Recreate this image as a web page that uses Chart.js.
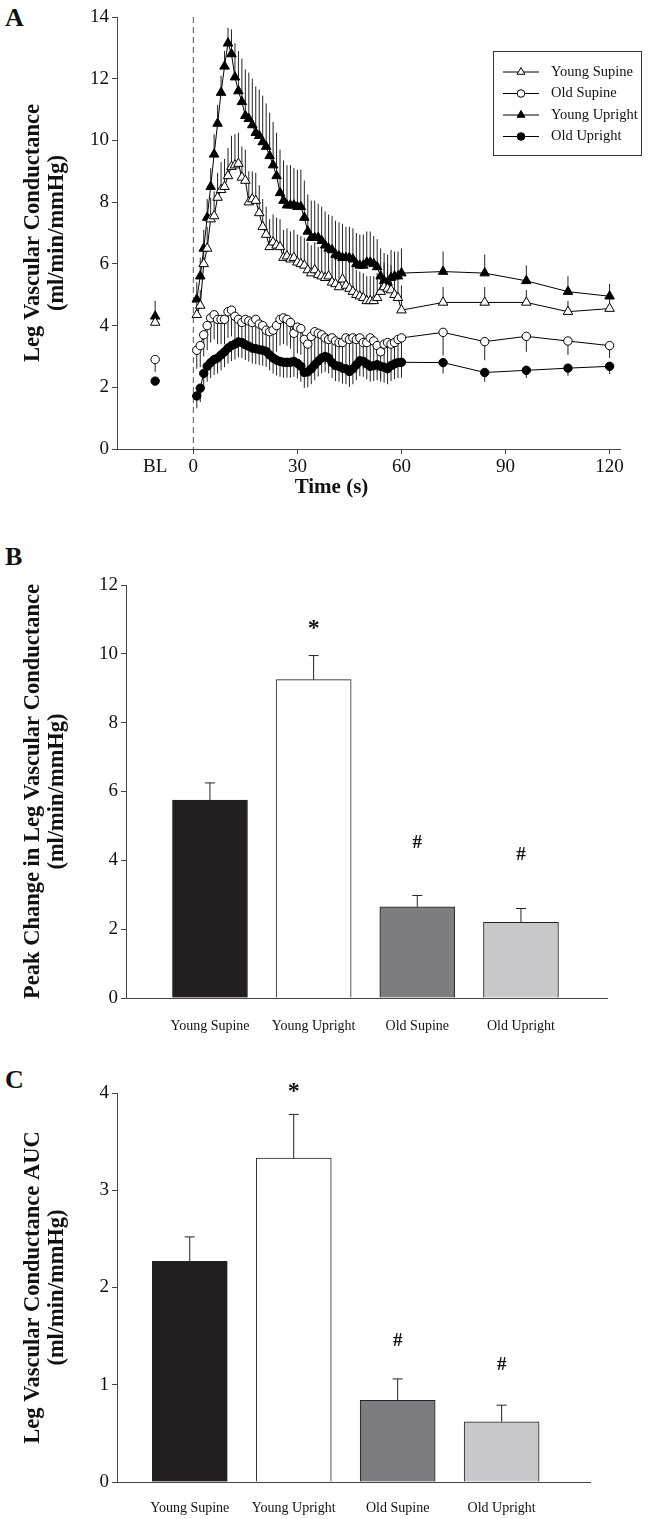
<!DOCTYPE html>
<html>
<head>
<meta charset="utf-8">
<script src="https://cdn.jsdelivr.net/npm/chart.js@4.4.1/dist/chart.umd.min.js"></script>
<style>
  html, body { margin: 0; padding: 0; background: #fff; }
  body { width: 663px; height: 1519px; position: relative; overflow: hidden; }
  canvas { position: absolute; left: 0; }
  .panel-letter { position: absolute; left: 5px; font: bold 26px 'Liberation Serif', serif; color: #111; }
  .x-title { position: absolute; left: 0; width: 663px; text-align: center; font: bold 21px 'Liberation Serif', serif; color: #111; }
</style>
</head>
<body>
<div class="panel-letter" style="top:3px">A</div>
<div class="panel-letter" style="top:542px">B</div>
<div class="panel-letter" style="top:1065px">C</div>
<canvas id="timeChart" width="663" height="505" style="top:0"></canvas>
<canvas id="peakChart" width="663" height="530" style="top:505px"></canvas>
<canvas id="aucChart" width="663" height="484" style="top:1035px"></canvas>
<div class="x-title" style="top:474px">Time (s)</div>
<script>
// panel A data (seconds after onset; BL = baseline)
const timeSec = [1,2,3,4,5,6,7,8,9,10,11,12,13,14,15,16,17,18,19,20,
  21,22,23,24,25,26,27,28,29,30,31,32,33,34,35,36,37,38,39,40,
  41,42,43,44,45,46,47,48,49,50,51,52,53,54,55,56,57,58,59,60,
  72,84,96,108,120];
const blTime = -11;
const xTickValues = [-11, 0, 30, 60, 90, 120];

const youngSupine = [4.35,4.65,6.0,6.5,7.45,7.55,8.15,8.4,8.5,8.85,9.15,9.2,9.25,8.8,8.7,8.0,8.1,8.05,7.65,7.2,
  6.95,6.55,6.7,6.6,6.55,6.2,6.25,6.15,6.2,6.05,6.0,5.95,5.8,5.7,5.8,5.65,5.6,5.55,5.6,5.4,
  5.35,5.25,5.5,5.3,5.2,5.1,5.0,4.95,4.9,4.8,4.8,4.8,4.9,5.1,5.25,5.2,5.15,5.0,4.9,4.5,
  4.75,4.75,4.75,4.45,4.55];
const youngSupineErr = [0.4,0.5,0.6,0.7,0.7,0.8,0.8,0.9,0.9,0.9,1.0,1.0,1.0,1.0,1.0,1.0,0.9,0.9,0.9,0.9,
  0.9,0.9,0.9,0.9,0.9,0.9,0.9,0.9,0.9,0.9,0.9,0.9,0.9,0.9,0.9,0.9,0.9,0.9,0.9,0.9,
  0.9,0.9,0.9,0.9,0.9,0.8,0.8,0.8,0.8,0.8,0.8,0.8,0.8,0.8,0.8,0.8,0.8,0.8,0.8,0.8,
  0.5,0.5,0.4,0.35,0.3];

const oldSupine = [3.2,3.35,3.7,4.0,4.25,4.35,4.2,4.2,4.2,4.45,4.5,4.3,4.2,4.1,4.2,4.15,4.1,4.2,4.05,4.0,
  3.85,3.8,3.85,4.0,4.2,4.25,4.2,4.1,3.75,3.95,3.9,3.55,3.4,3.65,3.8,3.75,3.7,3.6,3.55,3.6,
  3.5,3.45,3.45,3.6,3.55,3.6,3.55,3.6,3.45,3.45,3.6,3.5,3.35,3.15,3.4,3.45,3.4,3.45,3.55,3.6,
  3.78,3.48,3.65,3.5,3.35];
const oldSupineErr = [0.6,0.7,0.7,0.8,0.8,0.8,0.8,0.8,0.8,0.85,0.85,0.85,0.85,0.85,0.85,0.85,0.85,0.85,0.85,0.85,
  0.85,0.85,0.85,0.85,0.85,0.85,0.85,0.85,0.85,0.85,0.85,0.85,0.85,0.85,0.85,0.85,0.85,0.85,0.85,0.85,
  0.85,0.85,0.85,0.85,0.85,0.85,0.85,0.85,0.85,0.85,0.85,0.85,0.85,0.85,0.85,0.85,0.85,0.85,0.85,0.85,
  0.75,0.6,0.5,0.45,0.4];

const youngUpright = [4.85,5.6,6.5,7.5,8.5,9.55,10.55,11.55,12.4,13.15,12.8,12.05,11.6,11.25,10.8,10.7,10.5,10.25,10.15,9.95,
  9.8,9.5,9.2,8.85,8.3,8.05,7.9,7.9,7.9,7.85,7.85,7.5,7.05,6.85,6.85,6.85,6.75,6.6,6.5,6.45,
  6.3,6.25,6.2,6.2,6.2,6.15,6.0,5.95,5.95,6.05,6.05,6.0,5.9,5.6,5.45,5.4,5.55,5.6,5.6,5.7,
  5.75,5.7,5.45,5.1,4.95];
const youngUprightErr = [0.55,0.6,0.6,0.6,0.6,0.65,0.6,0.55,0.5,0.5,0.8,1.1,1.3,1.4,1.5,1.5,1.5,1.5,1.5,1.5,
  1.4,1.4,1.4,1.4,1.4,1.3,1.3,1.3,1.2,1.2,1.2,1.2,1.2,1.2,1.2,1.1,1.1,1.1,1.1,1.1,
  1.1,1.1,1.1,1.0,1.0,1.0,1.0,1.0,1.0,1.0,1.0,0.9,0.9,0.9,0.9,0.9,0.9,0.8,0.8,0.8,
  0.65,0.6,0.5,0.5,0.4];

const oldUpright = [1.72,1.97,2.45,2.68,2.8,2.9,2.95,3.05,3.15,3.27,3.35,3.4,3.47,3.45,3.38,3.33,3.27,3.25,3.22,3.2,
  3.16,3.05,2.95,2.88,2.84,2.81,2.81,2.81,2.84,2.78,2.68,2.48,2.5,2.6,2.73,2.85,2.95,3.0,2.95,2.8,
  2.7,2.68,2.62,2.6,2.51,2.6,2.73,2.86,2.84,2.76,2.68,2.7,2.73,2.68,2.65,2.6,2.7,2.76,2.8,2.81,
  2.8,2.48,2.55,2.62,2.68];
const oldUprightErr = [0.4,0.45,0.5,0.5,0.5,0.5,0.5,0.5,0.5,0.5,0.5,0.5,0.5,0.5,0.5,0.5,0.5,0.5,0.5,0.5,
  0.5,0.5,0.5,0.5,0.5,0.5,0.5,0.5,0.5,0.5,0.5,0.5,0.5,0.5,0.5,0.5,0.5,0.5,0.5,0.5,
  0.5,0.5,0.5,0.5,0.5,0.5,0.5,0.5,0.5,0.5,0.5,0.5,0.5,0.5,0.5,0.5,0.5,0.5,0.5,0.5,
  0.35,0.3,0.25,0.25,0.25];

// baseline: young supine, old supine, young upright, old upright
const baseline = [4.1, 2.9, 4.3, 2.2];
const baselineErr = [0.3, 0.4, 0.5, 0.1];

// panels B and C
const groups = ['Young Supine', 'Young Upright', 'Old Supine', 'Old Upright'];
const barColors = ['#231f20', '#ffffff', '#7d7d80', '#c8c8ca'];
const peakChange = [5.75, 9.25, 2.65, 2.2];
const peakErr = [0.5, 0.7, 0.33, 0.4];
const peakMarks = ['', '*', '#', '#'];
const peakMarkAt = [null, 10.85, 4.5, 4.15];
const aucValues = [2.27, 3.33, 0.84, 0.62];
const aucErr = [0.25, 0.45, 0.22, 0.17];
const aucMarks = ['', '*', '#', '#'];
const aucMarkAt = [null, 4.05, 1.45, 1.2];

const serif = "'Liberation Serif', 'Times New Roman', serif";
const axisGray = '#444';

// error bars, drawn from each point by the chart's own y scale
const errorBars = {
  id: 'errorBars',
  beforeDatasetsDraw(chart) {
    const { ctx } = chart;
    const yScale = chart.scales.y;
    ctx.save();
    chart.data.datasets.forEach((ds, i) => {
      if (!ds.errors) return;
      const meta = chart.getDatasetMeta(i);
      ctx.strokeStyle = '#222';
      ctx.lineWidth = 1;
      meta.data.forEach((el, j) => {
        const v = ds.data[j].y;
        const e = ds.errors[j];
        if (v == null || !e) return;
        const yEnd = yScale.getPixelForValue(v + ds.errorDir * e);
        ctx.beginPath();
        ctx.moveTo(el.x, el.y);
        ctx.lineTo(el.x, yEnd);
        ctx.stroke();
        if (ds.errorCap) {
          ctx.beginPath();
          ctx.moveTo(el.x - ds.errorCap, yEnd);
          ctx.lineTo(el.x + ds.errorCap, yEnd);
          ctx.stroke();
        }
      });
    });
    ctx.restore();
  }
};

// dashed onset line at time zero
const onsetLine = {
  id: 'onsetLine',
  beforeDatasetsDraw(chart) {
    const { ctx, chartArea } = chart;
    const x = chart.scales.x.getPixelForValue(0);
    ctx.save();
    ctx.strokeStyle = '#555';
    ctx.lineWidth = 1;
    ctx.setLineDash([6, 4]);
    ctx.beginPath();
    ctx.moveTo(x, chartArea.top);
    ctx.lineTo(x, chartArea.bottom);
    ctx.stroke();
    ctx.restore();
  }
};

// boxed legend in the top right corner of panel A
const boxLegend = {
  id: 'boxLegend',
  afterDraw(chart) {
    const { ctx } = chart;
    const items = chart.data.datasets.filter(ds => ds.inLegend);
    const left = 493, top = 51, w = 148, h = 104, rowH = 21.5;
    ctx.save();
    ctx.fillStyle = '#fff';
    ctx.fillRect(left, top, w, h);
    ctx.strokeStyle = '#333';
    ctx.lineWidth = 1;
    ctx.strokeRect(left + 0.5, top + 0.5, w, h);
    ctx.font = '14.5px ' + serif;
    ctx.textBaseline = 'middle';
    items.forEach((ds, i) => {
      const y = top + 21 + i * rowH;
      const cx = left + 28;
      ctx.strokeStyle = '#000';
      ctx.beginPath();
      ctx.moveTo(left + 10, y);
      ctx.lineTo(left + 46, y);
      ctx.stroke();
      ctx.fillStyle = ds.pointBackgroundColor;
      ctx.beginPath();
      if (ds.pointStyle === 'triangle') {
        const r = 4.5;
        ctx.moveTo(cx, y - r);
        ctx.lineTo(cx + r * 0.866, y + r * 0.5);
        ctx.lineTo(cx - r * 0.866, y + r * 0.5);
        ctx.closePath();
      } else {
        ctx.arc(cx, y, 3.8, 0, Math.PI * 2);
      }
      ctx.fill();
      ctx.stroke();
      ctx.fillStyle = '#111';
      ctx.fillText(ds.label, left + 58, y);
    });
    ctx.restore();
  }
};

// significance marks above the bars
const barMarks = {
  id: 'barMarks',
  afterDatasetsDraw(chart, args, opts) {
    const { ctx } = chart;
    ctx.save();
    ctx.fillStyle = '#111';
    ctx.textAlign = 'center';
    ctx.textBaseline = 'middle';
    opts.marks.forEach((m, i) => {
      if (!m) return;
      ctx.font = (m === '*' ? 'bold 24px ' : 'bold 19px ') + serif;
      const x = chart.scales.x.getPixelForValue(i + 1);
      const y = chart.scales.y.getPixelForValue(opts.at[i]);
      ctx.fillText(m, x, y + (m === '*' ? 4 : 0));
    });
    ctx.restore();
  }
};

function series(label, values, errors, dir, style, filled, inLegend) {
  return {
    label,
    data: values.map((v, i) => ({ x: timeSec[i], y: v })),
    errors, errorDir: dir, inLegend,
    borderColor: '#000',
    borderWidth: 1,
    pointStyle: style,
    pointRadius: style === 'triangle' ? 5.5 : 4.2,
    pointBorderWidth: 1,
    pointBorderColor: '#000',
    pointBackgroundColor: filled ? '#000' : '#fff',
    showLine: true,
    tension: 0
  };
}

function baselinePoint(i, style, filled, dir) {
  return {
    label: 'BL',
    data: [{ x: blTime, y: baseline[i] }],
    errors: [baselineErr[i]], errorDir: dir,
    pointStyle: style,
    pointRadius: style === 'triangle' ? 5.5 : 4.2,
    pointBorderWidth: 1,
    pointBorderColor: '#000',
    pointBackgroundColor: filled ? '#000' : '#fff',
    showLine: false
  };
}

const tickFont = { family: serif, size: 19 };
const titleFont = { family: serif, size: 22.5, weight: 'bold', lineHeight: 1.06 };

new Chart(document.getElementById('timeChart'), {
  type: 'line',
  data: {
    datasets: [
      series('Young Supine', youngSupine, youngSupineErr, 1, 'triangle', false, true),
      series('Old Supine', oldSupine, oldSupineErr, -1, 'circle', false, true),
      series('Young Upright', youngUpright, youngUprightErr, 1, 'triangle', true, true),
      series('Old Upright', oldUpright, oldUprightErr, -1, 'circle', true, true),
      baselinePoint(0, 'triangle', false, 1),
      baselinePoint(1, 'circle', false, -1),
      baselinePoint(2, 'triangle', true, 1),
      baselinePoint(3, 'circle', true, -1)
    ]
  },
  options: {
    responsive: false,
    animation: false,
    devicePixelRatio: 1,
    layout: { padding: { top: 17, right: 43, bottom: 0, left: 0 } },
    plugins: { legend: { display: false }, tooltip: { enabled: false } },
    scales: {
      x: {
        type: 'linear',
        min: -22,
        max: 123,
        afterBuildTicks: (scale) => { scale.ticks = xTickValues.map(v => ({ value: v })); },
        afterFit: (scale) => { scale.height = 56; },
        ticks: {
          font: tickFont, color: '#111', padding: 2, maxRotation: 0, autoSkip: false,
          callback: (v) => (v === blTime ? 'BL' : v)
        },
        grid: {
          drawOnChartArea: false, tickLength: 5,
          color: (c) => (c.tick && c.tick.value === blTime ? 'rgba(0,0,0,0)' : axisGray)
        },
        border: { color: axisGray, width: 1 }
      },
      y: {
        min: 0,
        max: 14,
        afterFit: (scale) => { scale.width = 117; },
        ticks: { stepSize: 2, font: tickFont, color: '#111', padding: 3 },
        grid: { drawOnChartArea: false, tickLength: 5, color: axisGray },
        border: { color: axisGray, width: 1 },
        title: {
          display: true,
          text: ['Leg Vascular Conductance', '(ml/min/mmHg)'],
          font: titleFont, color: '#111', padding: { top: 21, bottom: 0 }
        }
      }
    }
  },
  plugins: [onsetLine, errorBars, boxLegend]
});

function barChart(canvasId, values, errors, marks, markAt, yMax, yStep, yTitle, axisLeft, xMin, xMax, padTop, padRight, labelPad) {
  return new Chart(document.getElementById(canvasId), {
    type: 'bar',
    data: {
      datasets: [{
        data: values.map((v, i) => ({ x: i + 1, y: v })),
        errors, errorDir: 1, errorCap: 5,
        backgroundColor: barColors,
        borderColor: '#222',
        borderWidth: 1,
        barThickness: 75
      }]
    },
    options: {
      responsive: false,
      animation: false,
      devicePixelRatio: 1,
      layout: { padding: { top: padTop, right: padRight, bottom: 0, left: 0 } },
      plugins: {
        legend: { display: false },
        tooltip: { enabled: false },
        barMarks: { marks, at: markAt }
      },
      scales: {
        x: {
          type: 'linear',
          offset: false,
          min: xMin,
          max: xMax,
          afterBuildTicks: (scale) => { scale.ticks = groups.map((g, i) => ({ value: i + 1 })); },
          afterFit: (scale) => { scale.height = 37; },
          ticks: {
            font: { family: serif, size: 14 }, color: '#111', padding: labelPad,
            maxRotation: 0, autoSkip: false,
            callback: (v) => groups[v - 1]
          },
          grid: { display: false, drawTicks: false },
          border: { color: axisGray, width: 1 }
        },
        y: {
          min: 0,
          max: yMax,
          afterFit: (scale) => { scale.width = axisLeft; },
          ticks: { stepSize: yStep, font: tickFont, color: '#111', padding: 3 },
          grid: { drawOnChartArea: false, tickLength: 5, color: axisGray },
          border: { color: axisGray, width: 1 },
          title: {
            display: true, text: yTitle,
            font: titleFont, color: '#111', padding: { top: 21, bottom: 0 }
          }
        }
      }
    },
    plugins: [errorBars, barMarks]
  });
}

barChart('peakChart', peakChange, peakErr, peakMarks, peakMarkAt, 12, 2,
  ['Peak Change in Leg Vascular Conductance', '(ml/min/mmHg)'], 126, 0.19, 4.83, 80, 56, 20);
barChart('aucChart', aucValues, aucErr, aucMarks, aucMarkAt, 4, 1,
  ['Leg Vascular Conductance AUC', '(ml/min/mmHg)'], 117, 0.3, 4.85, 58, 73, 18);
</script>
</body>
</html>
